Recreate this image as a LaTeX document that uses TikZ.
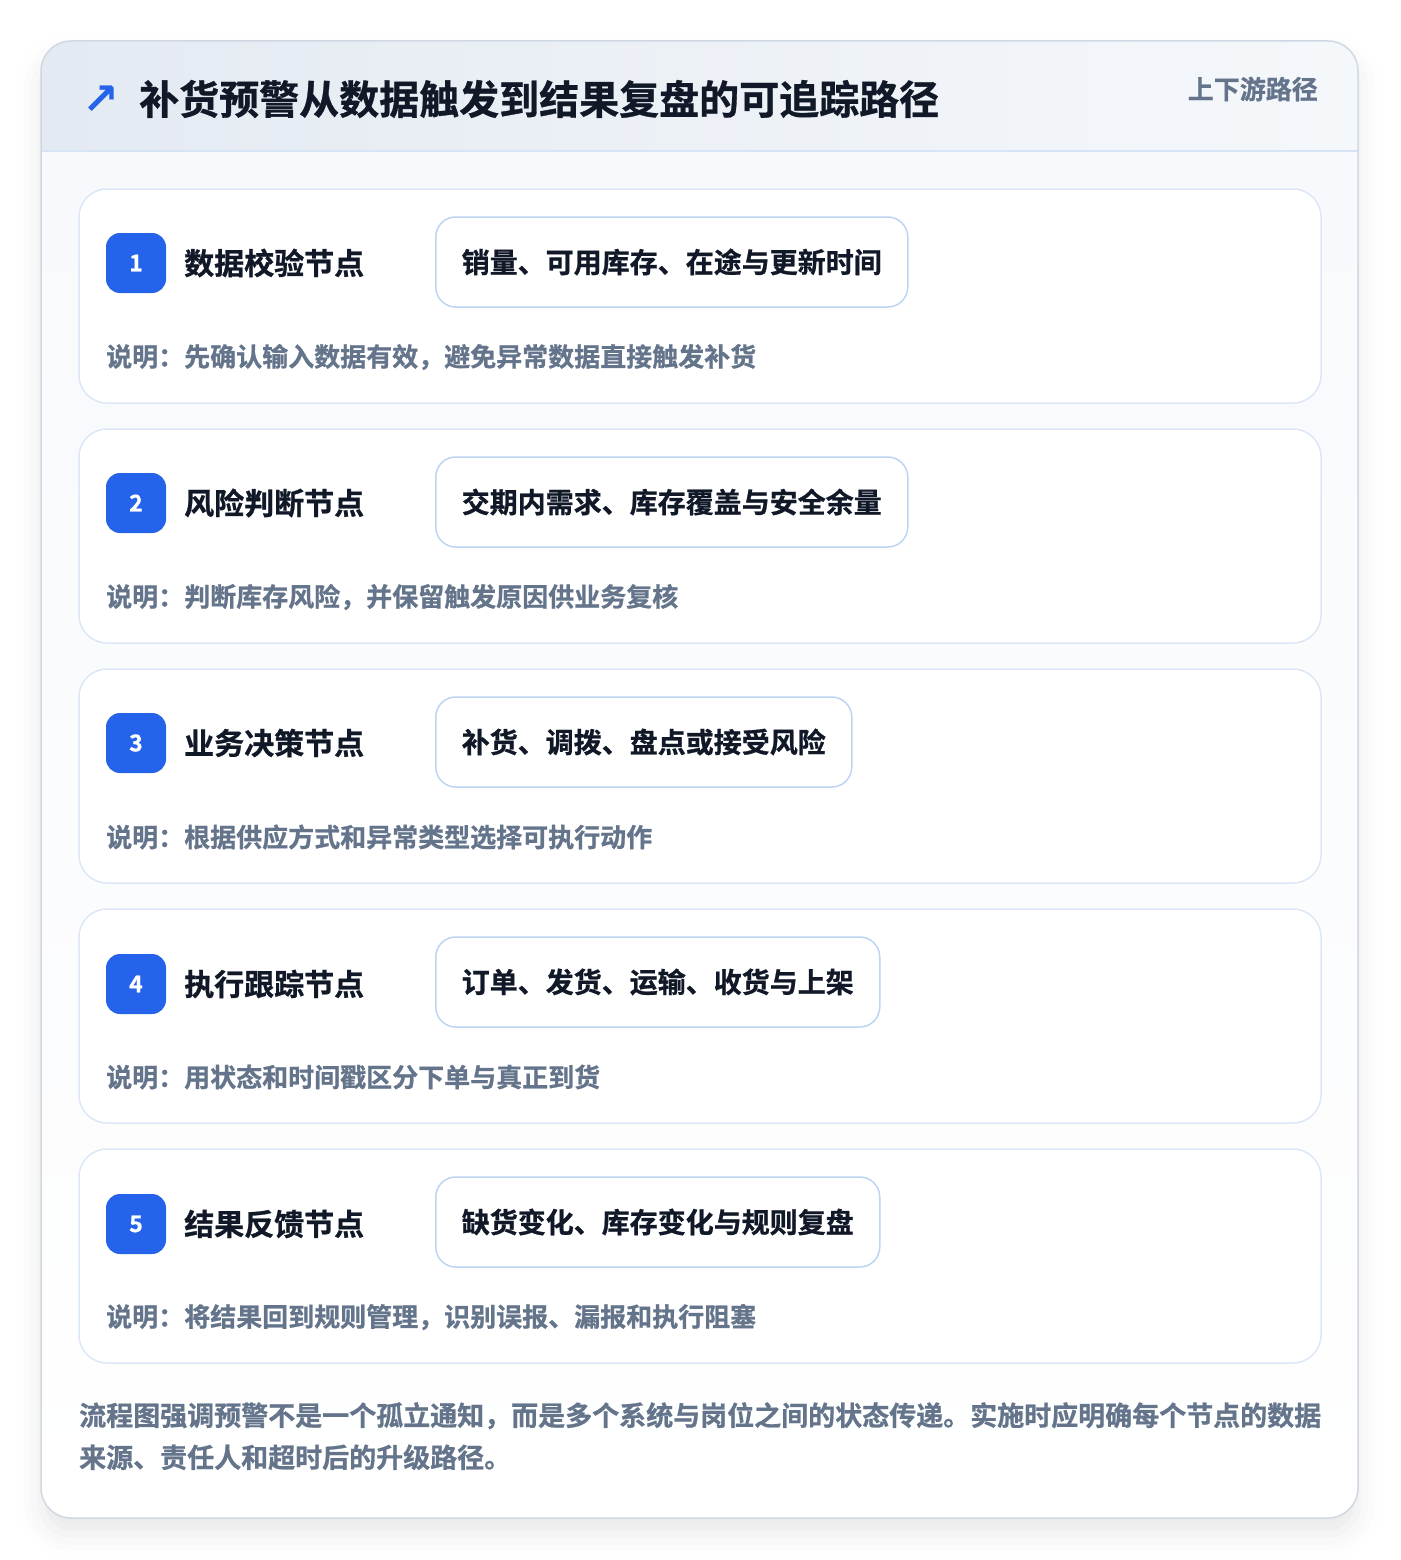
\documentclass[tikz,border=0pt]{standalone}
\usepackage{fontspec}
\setmainfont{Noto Sans CJK SC}[BoldFont={Noto Sans CJK SC Bold}, BoldFeatures={FakeBold=0.8}]
\newfontfamily\symfont{DejaVu Sans Bold}
\usetikzlibrary{shadows.blur}

\definecolor{frameline}{HTML}{CFD8E3}
\definecolor{headleft}{HTML}{E4EAF2}
\definecolor{headright}{HTML}{F5F8FB}
\definecolor{headline}{HTML}{D6E4F5}
\definecolor{bodytop}{HTML}{F7F9FC}
\definecolor{cardline}{HTML}{DCE8F7}
\definecolor{tagline}{HTML}{BCD5F3}
\definecolor{tagshade}{HTML}{EEF1F5}
\definecolor{badgeblue}{HTML}{2563EB}
\definecolor{ink}{HTML}{111827}
\definecolor{slate}{HTML}{64748B}

\begin{document}
\begin{tikzpicture}[x=1pt, y=-1pt,
    card/.style={draw=cardline, line width=1.5pt, fill=white, rounded corners=28pt,
      minimum width=1242pt, minimum height=214pt, inner sep=0pt},
    badge/.style={fill=badgeblue, rounded corners=14pt, minimum size=60pt, inner sep=0pt,
      text=white, font=\fontsize{23}{23}\selectfont\bfseries},
    stepname/.style={anchor=west, inner sep=0pt, text=ink, font=\fontsize{30}{30}\selectfont\bfseries},
    tag/.style={anchor=west, draw=tagline, line width=1.5pt, fill=white, rounded corners=20pt,
      minimum height=90pt, inner xsep=26pt, inner ysep=0pt, text=ink,
      font=\fontsize{28}{28}\selectfont\bfseries},
    note/.style={anchor=west, inner sep=0pt, text=slate, font=\fontsize{26}{26}\selectfont\bfseries}]
  \useasboundingbox (0,0) rectangle (1400,1560);

  % outer frame and header band
  \path[fill=white, rounded corners=30pt,
    blur shadow={shadow xshift=0pt, shadow yshift=-16pt, shadow blur radius=24pt, shadow opacity=9}]
    (41,41) rectangle (1358,1518);
  \begin{scope}
    \clip[rounded corners=30pt] (41,41) rectangle (1358,1518);
    \shade[top color=bodytop, bottom color=white] (41,151) rectangle (1358,1518);
    \shade[left color=headleft, right color=headright] (41,41) rectangle (1358,151);
    \draw[headline, line width=1.5pt] (41,151) -- (1358,151);
  \end{scope}
  \draw[frameline, line width=1.5pt, rounded corners=30pt] (41,41) rectangle (1358,1518);

  \node[inner sep=0pt, text=badgeblue, font=\symfont\fontsize{44}{44}\selectfont] (icon) at (101,100) {↗};
  \node[anchor=west, inner sep=0pt, text=ink, font=\fontsize{40}{40}\selectfont\bfseries] (title) at (139,99)
    {补货预警从数据触发到结果复盘的可追踪路径};
  \node[anchor=east, inner sep=0pt, text=slate, font=\fontsize{26}{26}\selectfont\bfseries] (scope) at (1318,89)
    {上下游路径};

  % step 1
  \node[card] (card1) at (700,296) {};
  \node[badge] (badge1) at (136,263) {1};
  \node[stepname] (name1) at (184,263) {数据校验节点};
  \node[tag] (tag1) at (435,262) {销量、可用库存、在途与更新时间};
  \node[note] (note1) at (106,357) {说明：先确认输入数据有效，避免异常数据直接触发补货};

  % step 2
  \node[card] (card2) at (700,536) {};
  \node[badge] (badge2) at (136,503) {2};
  \node[stepname] (name2) at (184,503) {风险判断节点};
  \node[tag] (tag2) at (435,502) {交期内需求、库存覆盖与安全余量};
  \node[note] (note2) at (106,597) {说明：判断库存风险，并保留触发原因供业务复核};

  % step 3
  \node[card] (card3) at (700,776) {};
  \node[badge] (badge3) at (136,743) {3};
  \node[stepname] (name3) at (184,743) {业务决策节点};
  \node[tag] (tag3) at (435,742) {补货、调拨、盘点或接受风险};
  \node[note] (note3) at (106,837) {说明：根据供应方式和异常类型选择可执行动作};

  % step 4
  \node[card] (card4) at (700,1016) {};
  \node[badge] (badge4) at (136,984) {4};
  \node[stepname] (name4) at (184,984) {执行跟踪节点};
  \node[tag] (tag4) at (435,982) {订单、发货、运输、收货与上架};
  \node[note] (note4) at (106,1077) {说明：用状态和时间戳区分下单与真正到货};

  % step 5
  \node[card] (card5) at (700,1256) {};
  \node[badge] (badge5) at (136,1224) {5};
  \node[stepname] (name5) at (184,1224) {结果反馈节点};
  \node[tag] (tag5) at (435,1222) {缺货变化、库存变化与规则复盘};
  \node[note] (note5) at (106,1317) {说明：将结果回到规则管理，识别误报、漏报和执行阻塞};

  % closing remark
  \node[anchor=north west, inner sep=0pt, align=left, text=slate,
    font=\fontsize{27}{42}\selectfont\bfseries] (remark) at (79,1402)
    {流程图强调预警不是一个孤立通知，而是多个系统与岗位之间的状态传递。实施时应明确每个节点的数据\\
     来源、责任人和超时后的升级路径。};
\end{tikzpicture}
\end{document}
